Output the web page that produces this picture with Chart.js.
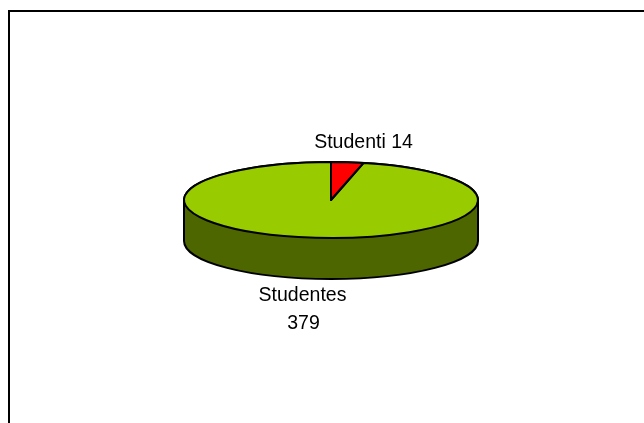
<!DOCTYPE html>
<html>
<head>
<meta charset="utf-8">
<style>
  html, body { margin: 0; padding: 0; background: #fff; overflow: hidden; }
  #wrap { position: relative; width: 644px; height: 423px; }
</style>
<script src="https://cdn.jsdelivr.net/npm/chart.js@4"></script>
</head>
<body>
<div id="wrap"><canvas id="graph-pie" width="644" height="423"></canvas></div>
<script>
var categories = ['Studenti', 'Studentes'];
var values = [14, 379];
var sliceColors = ['#FF0000', '#99CC00'];
var wallColor = '#4D6600';

var squash = 38 / 147;
var depth = 41;

// flattens the pie and draws the wall under it
var tiltPlugin = {
    id: 'tilt',
    beforeDatasetDraw: function (chart, args) {
        var ctx = chart.ctx;
        var arcs = chart.getDatasetMeta(args.index).data;
        var cx = arcs[0].x, cy = arcs[0].y, r = arcs[0].outerRadius;

        // wall: lower half of the ellipse pushed down by depth
        ctx.save();
        ctx.beginPath();
        ctx.ellipse(cx, cy, r, r * squash, 0, 0, Math.PI, true);
        ctx.ellipse(cx, cy + depth, r, r * squash, 0, Math.PI, 0, true);
        ctx.closePath();
        ctx.fillStyle = wallColor;
        ctx.fill();
        ctx.lineWidth = 2;
        ctx.strokeStyle = '#000';
        ctx.stroke();
        ctx.restore();

        ctx.save();
        ctx.translate(0, cy);
        ctx.scale(1, squash);
        ctx.translate(0, -cy);
    },
    afterDatasetDraw: function (chart, args) {
        var ctx = chart.ctx;
        ctx.restore();

        // outlines are stroked outside the scale so the line stays even
        var arcs = chart.getDatasetMeta(args.index).data;
        ctx.save();
        ctx.lineWidth = 2;
        ctx.strokeStyle = '#000';
        ctx.lineJoin = 'round';
        arcs.forEach(function (arc) {
            ctx.beginPath();
            ctx.moveTo(arc.x, arc.y);
            ctx.ellipse(arc.x, arc.y, arc.outerRadius, arc.outerRadius * squash, 0, arc.startAngle, arc.endAngle);
            ctx.closePath();
            ctx.stroke();
        });
        ctx.restore();
    }
};

// frame (top and left only) and the slice labels
var notesPlugin = {
    id: 'notes',
    afterDraw: function (chart) {
        var ctx = chart.ctx;
        ctx.save();
        ctx.strokeStyle = '#000';
        ctx.lineWidth = 2;
        ctx.beginPath();
        ctx.moveTo(644, 11);
        ctx.lineTo(9, 11);
        ctx.lineTo(9, 423);
        ctx.stroke();

        ctx.fillStyle = '#000';
        ctx.font = '19.5px "Liberation Sans", Arial, sans-serif';
        ctx.textAlign = 'center';
        ctx.textBaseline = 'middle';
        ctx.fillText(categories[0] + ' ' + values[0], 363.5, 143);
        ctx.fillText(categories[1], 302.5, 296);
        ctx.fillText(String(values[1]), 303.5, 324);
        ctx.restore();
    }
};

createGraphPie();

function createGraphPie() {
    var ctx = document.getElementById('graph-pie').getContext('2d');

    var data = {
        labels: categories,
        datasets: [{
            data: values,
            backgroundColor: sliceColors,
            borderWidth: 0
        }]
    };

    var options = {
        responsive: false,
        animation: false,
        layout: {
            padding: { left: 184, right: 166, top: 53, bottom: 76 }
        },
        plugins: {
            legend: { display: false },
            title: { display: false },
            tooltip: { enabled: false }
        }
    };

    var chart = new Chart(ctx, {
        type: 'pie',
        data: data,
        options: options,
        plugins: [tiltPlugin, notesPlugin]
    });
}
</script>
</body>
</html>
